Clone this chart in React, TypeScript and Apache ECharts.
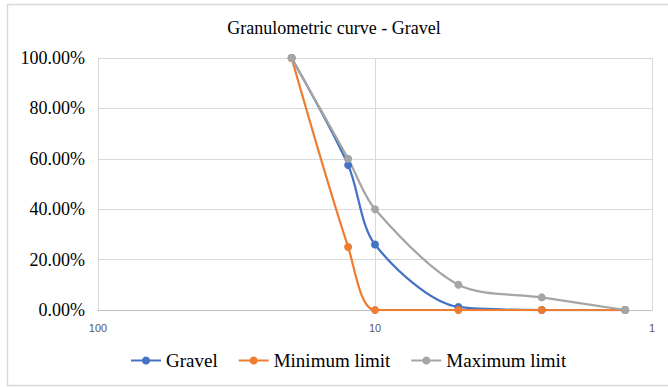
import React, { useEffect, useRef } from "react";
import * as echarts from "echarts";

const sieveSizes = [20, 12.5, 10, 5, 2.5, 1.25];
const gravel = [1.0, 0.575, 0.26, 0.012, 0, 0];
const minimumLimit = [1.0, 0.25, 0, 0, 0, 0];
const maximumLimit = [1.0, 0.6, 0.4, 0.1, 0.05, 0];
const seriesNames = ["Gravel", "Minimum limit", "Maximum limit"];
const colors = ["#4472C4", "#ED7D31", "#A5A5A5"];

const FONT = "Liberation Serif";

export default function App() {
  const ref = useRef<HTMLDivElement>(null);
  useEffect(() => {
    const chart = echarts.init(ref.current!, null, { renderer: "svg" });
    const all = [gravel, minimumLimit, maximumLimit];
    chart.setOption({
      animation: false,
      backgroundColor: "#ffffff",
      textStyle: { fontFamily: FONT },
      title: {
        text: "Granulometric curve - Gravel",
        left: "center",
        top: 14,
        textStyle: { fontFamily: FONT, fontSize: 18, fontWeight: "normal", color: "#000" },
      },
      graphic: [
        {
          type: "rect",
          shape: { x: 7.5, y: 4.5, width: 700, height: 381 },
          style: { fill: "none", stroke: "#d9d9d9", lineWidth: 1.5 },
          silent: true,
        },
      ],
      legend: {
        bottom: 12,
        left: 125,
        itemGap: 20,
        itemWidth: 30,
        itemHeight: 10,
        textStyle: { fontFamily: FONT, fontSize: 19, color: "#000" },
        data: seriesNames,
      },
      grid: { left: 98, right: 16, top: 58, bottom: 77 },
      xAxis: {
        type: "log",
        logBase: 10,
        min: 1,
        max: 100,
        inverse: true,
        axisLine: { show: true, lineStyle: { color: "#bfbfbf" } },
        axisTick: { show: false },
        axisLabel: { color: "#595959", fontSize: 11, margin: 12, fontFamily: "Liberation Sans" },
        splitLine: { show: true, lineStyle: { color: "#d9d9d9", width: 1 } },
        minorTick: { show: false },
      },
      yAxis: {
        type: "value",
        min: 0,
        max: 1,
        interval: 0.2,
        axisLine: { show: false },
        axisTick: { show: false },
        axisLabel: {
          color: "#000",
          fontFamily: FONT,
          fontSize: 18,
          margin: 13,
          formatter: (v: number) => (v * 100).toFixed(2) + "%",
        },
        splitLine: { lineStyle: { color: "#d9d9d9", width: 1 } },
      },
      series: all.map((vals, i) => ({
        name: seriesNames[i],
        type: "line",
        smooth: 0.3,
        symbol: "circle",
        symbolSize: 8,
        color: colors[i],
        lineStyle: { width: 2.25, color: colors[i] },
        itemStyle: { color: colors[i] },
        data: sieveSizes.map((s, j) => [s, vals[j]]),
      })),
    });
    return () => chart.dispose();
  }, []);
  return (
    <div
      ref={ref}
      style={{ position: "fixed", left: 0, top: 0, width: 668, height: 387 }}
    />
  );
}
